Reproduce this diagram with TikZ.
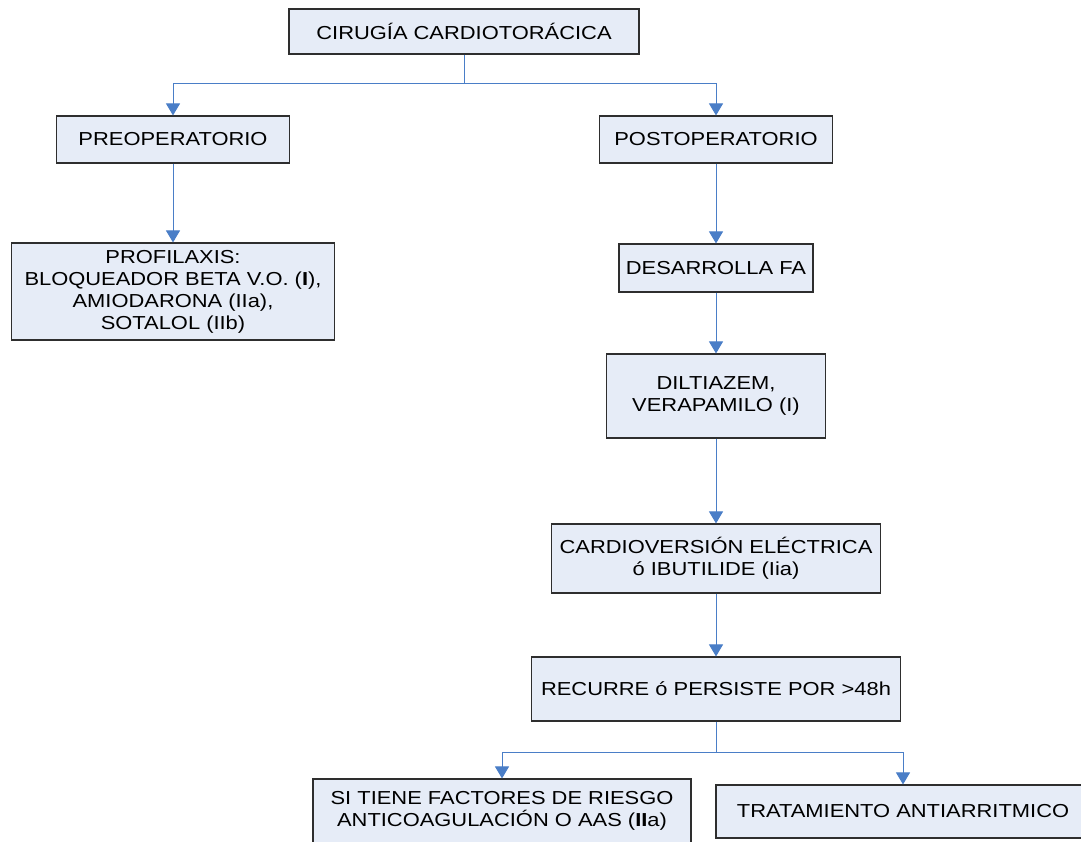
\documentclass[tikz,border=0pt]{standalone}
\usepackage{fontspec}
\setmainfont{Liberation Sans}[FakeStretch=1.165]
\usetikzlibrary{arrows.meta}
\definecolor{boxfill}{HTML}{E6ECF7}
\definecolor{boxline}{HTML}{2E2E2E}
\definecolor{flow}{HTML}{4A7EC7}
\begin{document}
\begin{tikzpicture}[x=1pt,y=-1pt,
  stepbox/.style={draw=boxline,fill=boxfill,line width=1.1pt,align=center,
    inner sep=0pt,font=\fontsize{18.8}{22}\selectfont},
  flowline/.style={draw=flow,line width=1pt},
  flowarrow/.style={flowline,-{Triangle[width=14pt,length=12pt]}}]
\useasboundingbox (0,0) rectangle (1081,841);
\clip (0,0) rectangle (1081,841);

% boxes
\node[stepbox,minimum width=350pt,minimum height=45pt] (top) at (464,31.5) {CIRUGÍA CARDIOTORÁCICA};
\node[stepbox,minimum width=233pt,minimum height=47pt] (pre) at (173,139.5) {PREOPERATORIO};
\node[stepbox,minimum width=233pt,minimum height=47pt] (post) at (716,139.5) {POSTOPERATORIO};
\node[stepbox,minimum width=323pt,minimum height=97pt] (prof) at (173,291.5)
  {PROFILAXIS:\\BLOQUEADOR BETA V.O. (\textbf{I}),\\AMIODARONA (IIa),\\SOTALOL (IIb)};
\node[stepbox,minimum width=194pt,minimum height=48pt] (desa) at (716,268) {DESARROLLA FA};
\node[stepbox,minimum width=219pt,minimum height=84pt] (dilt) at (716,396) {DILTIAZEM,\\VERAPAMILO (I)};
\node[stepbox,minimum width=329pt,minimum height=69pt] (card) at (716,558.5) {CARDIOVERSIÓN ELÉCTRICA\\ó IBUTILIDE (Iia)};
\node[stepbox,minimum width=369pt,minimum height=64pt] (recu) at (716,689) {RECURRE ó PERSISTE POR >48h};
\node[stepbox,minimum width=378pt,minimum height=64pt] (ries) at (502,811)
  {SI TIENE FACTORES DE RIESGO\\ANTICOAGULACIÓN O AAS (\textbf{II}a)};
\node[stepbox,minimum width=374pt,minimum height=53pt] (trat) at (903,811.5) {TRATAMIENTO ANTIARRITMICO};

% branching points
\coordinate (split1) at (464,83);
\coordinate (split2) at (716,752);

% connectors
\draw[flowline] (top.south) -- (split1);
\draw[flowarrow] (split1) -| (pre.north);
\draw[flowarrow] (split1) -| (post.north);
\draw[flowarrow] (pre.south) -- (prof.north);
\draw[flowarrow] (post.south) -- (desa.north);
\draw[flowarrow] (desa.south) -- (dilt.north);
\draw[flowarrow] (dilt.south) -- (card.north);
\draw[flowarrow] (card.south) -- (recu.north);
\draw[flowline] (recu.south) -- (split2);
\draw[flowarrow] (split2) -| (ries.north);
\draw[flowarrow] (split2) -| (trat.north);
\end{tikzpicture}
\end{document}
